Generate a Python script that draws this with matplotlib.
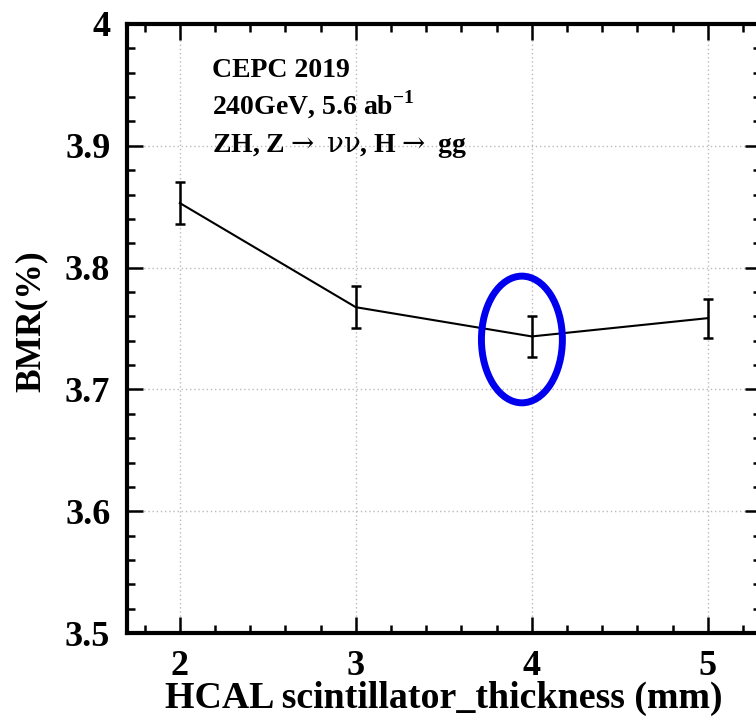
import numpy as np
import matplotlib
matplotlib.use("Agg")
import matplotlib.pyplot as plt
from matplotlib.patches import Ellipse
from matplotlib.ticker import MultipleLocator

plt.rcParams["font.family"] = ["Liberation Serif", "DejaVu Serif"]
plt.rcParams["font.weight"] = "bold"
plt.rcParams["mathtext.fontset"] = "custom"
plt.rcParams["mathtext.rm"] = "Liberation Serif:bold"
plt.rcParams["mathtext.bf"] = "Liberation Serif:bold"
plt.rcParams["mathtext.sf"] = "DejaVu Serif:weight=normal"

# data
thickness = [2, 3, 4, 5]
bmr = [3.853, 3.7675, 3.7435, 3.7585]
bmr_err = [0.017, 0.017, 0.0165, 0.016]

# highlight ellipse around the chosen point (data units)
ell_center = (3.944, 3.741)
ell_width = 0.46
ell_height = 0.104

labels = ["CEPC 2019",
          r"240GeV, 5.6 ab$^{\mathrm{-1}}$",
          r"ZH, Z$\mathsf{\rightarrow}$ $\mathsf{\nu\nu}$, H$\mathsf{\rightarrow}$ gg"]

fig = plt.figure(figsize=(7.56, 7.26), dpi=100)
ax = fig.add_axes([0.168, 0.128, 0.838, 0.839])

ax.errorbar(thickness, bmr, yerr=bmr_err, color="black", linewidth=1.5,
            elinewidth=1.8, capsize=3.5, capthick=1.8, zorder=3)

ax.add_patch(Ellipse(ell_center, ell_width, ell_height, fill=False,
                     edgecolor="#0000ee", linewidth=5, zorder=4))

ax.set_xlim(1.7, 5.3)
ax.set_ylim(3.5, 4.0)
ax.xaxis.set_major_locator(MultipleLocator(1))
ax.xaxis.set_minor_locator(MultipleLocator(0.2))
ax.yaxis.set_minor_locator(MultipleLocator(0.02))
ax.set_yticks([3.5, 3.6, 3.7, 3.8, 3.9, 4.0])
ax.set_yticklabels(["3.5", "3.6", "3.7", "3.8", "3.9", "4"])

ax.grid(True, which="major", linestyle=(0, (1, 2)), color="#bbbbbb", linewidth=1)
ax.tick_params(which="both", direction="in", top=True, right=True, width=1.8)
ax.tick_params(which="major", length=11.5, labelsize=26, pad=12)
ax.tick_params(which="minor", length=5.8)
for s in ax.spines.values():
    s.set_linewidth(3)

ax.set_xlabel("HCAL scintillator_thickness (mm)", fontsize=27.3, fontweight="bold", labelpad=-1)
ax.set_ylabel("BMR(%)", fontsize=25.5, fontweight="bold")
ax.yaxis.set_label_coords(-0.125, 0.512)

for txt, yy in zip(labels, [0.913, 0.851, 0.790]):
    ax.text(0.134, yy, txt, transform=ax.transAxes, fontsize=20,
            fontweight="bold", va="baseline", ha="left")

fig.savefig("out.png", dpi=100)
